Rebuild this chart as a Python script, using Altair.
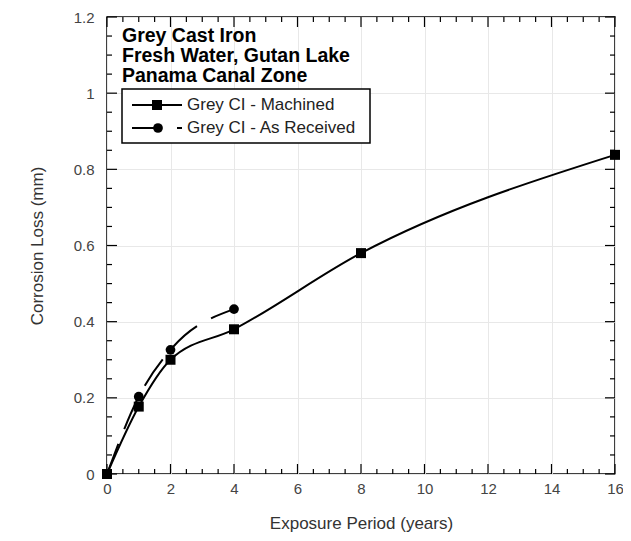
import altair as alt
import pandas as pd

# ---- data ----
years_machined = [0, 1, 2, 4, 8, 16]
loss_machined = [0.0, 0.177, 0.30, 0.38, 0.58, 0.838]
years_received = [0, 1, 2, 4]
loss_received = [0.0, 0.203, 0.326, 0.433]

x_major = [0, 2, 4, 6, 8, 10, 12, 14, 16]
x_minor = [v / 2 for v in range(0, 33) if v % 4 != 0]
y_major = [0, 0.2, 0.4, 0.6, 0.8, 1.0, 1.2]
y_minor = [v / 20 for v in range(0, 25) if v % 4 != 0]

title_lines = ["Grey Cast Iron", "Fresh Water, Gutan Lake", "Panama Canal Zone"]
legend_labels = ["Grey CI - Machined", "Grey CI - As Received"]

W, H = 508, 457
FONT = "Liberation Sans"

xs = alt.Scale(domain=[0, 16], nice=False, zero=False)
ys = alt.Scale(domain=[0, 1.2], nice=False, zero=False)
xaxis = alt.Axis(values=x_major, title="Exposure Period (years)", ticks=False, domain=False,
                 grid=True, gridColor="#e8e8e8", labelFontSize=15, labelColor="#444",
                 labelPadding=7, titleFontSize=17, titleFontWeight="normal", titleColor="#333",
                 titlePadding=19, labelFont=FONT, titleFont=FONT, format="~g",
                 labelFlush=False, labelOverlap=False)
yaxis = alt.Axis(values=y_major, title="Corrosion Loss (mm)", ticks=False, domain=False,
                 grid=True, gridColor="#e8e8e8", labelFontSize=15, labelColor="#444",
                 labelPadding=13, titleFontSize=17, titleFontWeight="normal", titleColor="#333",
                 titlePadding=27, labelFont=FONT, titleFont=FONT, format="~g",
                 labelFlush=False, labelOverlap=False)


def X(f="x"):
    return alt.X(f"{f}:Q", scale=xs, axis=xaxis)


def Y(f="y"):
    return alt.Y(f"{f}:Q", scale=ys, axis=yaxis)


df_m = pd.DataFrame({"x": years_machined, "y": loss_machined})
df_r = pd.DataFrame({"x": years_received, "y": loss_received})

line_r = alt.Chart(df_r).mark_line(interpolate="monotone", color="black", strokeWidth=2,
                                   strokeDash=[32, 16]).encode(x=X(), y=Y())
pts_r = alt.Chart(df_r).mark_point(shape="circle", filled=True, color="black", size=95,
                                   opacity=1).encode(x=X(), y=Y())
line_m = alt.Chart(df_m).mark_line(interpolate="monotone", color="black",
                                   strokeWidth=2).encode(x=X(), y=Y())
pts_m = alt.Chart(df_m).mark_point(shape="square", filled=True, color="black", size=100,
                                   opacity=1).encode(x=X(), y=Y())


# inward ticks on all four sides
def xticks(vals, L):
    d = pd.DataFrame({"x": vals})
    bot = alt.Chart(d).mark_tick(color="black", thickness=1.2, orient="vertical", opacity=1).encode(
        x=X(), y=alt.value(H - L / 2), size=alt.value(L))
    top = alt.Chart(d).mark_tick(color="black", thickness=1.2, orient="vertical", opacity=1).encode(
        x=X(), y=alt.value(L / 2), size=alt.value(L))
    return [bot, top]


def yticks(vals, L):
    d = pd.DataFrame({"y": vals})
    lef = alt.Chart(d).mark_tick(color="black", thickness=1.2, orient="horizontal", opacity=1).encode(
        y=Y(), x=alt.value(L / 2), size=alt.value(L))
    rig = alt.Chart(d).mark_tick(color="black", thickness=1.2, orient="horizontal", opacity=1).encode(
        y=Y(), x=alt.value(W - L / 2), size=alt.value(L))
    return [lef, rig]


tick_layers = xticks(x_major, 10) + xticks(x_minor, 5) + yticks(y_major, 10) + yticks(y_minor, 5)

one = pd.DataFrame({"a": [0]})

# title block (one multi-line text)
title_block = alt.Chart(one).mark_text(
    text=title_lines, align="left", baseline="alphabetic", lineHeight=20,
    font=FONT, fontSize=19.5, fontWeight="bold", color="black"
).encode(x=alt.value(15), y=alt.value(25))

leg_box = alt.Chart(one).mark_rect(fill="white", stroke="black", strokeWidth=1.5).encode(
    x=alt.value(15), x2=alt.value(263), y=alt.value(72), y2=alt.value(126))
leg_l1 = alt.Chart(one).mark_rule(color="black", strokeWidth=2).encode(
    x=alt.value(25), x2=alt.value(75), y=alt.value(88))
leg_p1 = alt.Chart(one).mark_point(shape="square", filled=True, color="black", size=100, opacity=1).encode(
    x=alt.value(50), y=alt.value(88))
leg_l2a = alt.Chart(one).mark_rule(color="black", strokeWidth=2).encode(
    x=alt.value(25), x2=alt.value(51), y=alt.value(111))
leg_l2b = alt.Chart(one).mark_rule(color="black", strokeWidth=2).encode(
    x=alt.value(70), x2=alt.value(75), y=alt.value(111))
leg_p2 = alt.Chart(one).mark_point(shape="circle", filled=True, color="black", size=95, opacity=1).encode(
    x=alt.value(51), y=alt.value(111))
leg_t = []
for i, t in enumerate(legend_labels):
    leg_t.append(alt.Chart(pd.DataFrame({"t": [t]})).mark_text(
        align="left", baseline="middle", font=FONT, fontSize=17, color="#222").encode(
        text="t:N", x=alt.value(80), y=alt.value(88 + 23 * i)))

chart = alt.layer(
    line_r, line_m, pts_r, pts_m, *tick_layers, title_block,
    leg_box, leg_l1, leg_l2a, leg_l2b, leg_p1, leg_p2, *leg_t
).properties(
    width=W, height=H,
    autosize=alt.AutoSizeParams(type="none"),
    padding={"left": 99, "top": 9, "right": 8, "bottom": 58},
    background="white",
).configure_view(stroke="black", strokeWidth=1.5)

chart.save("out.html", embed_options={"renderer": "svg", "actions": False})
